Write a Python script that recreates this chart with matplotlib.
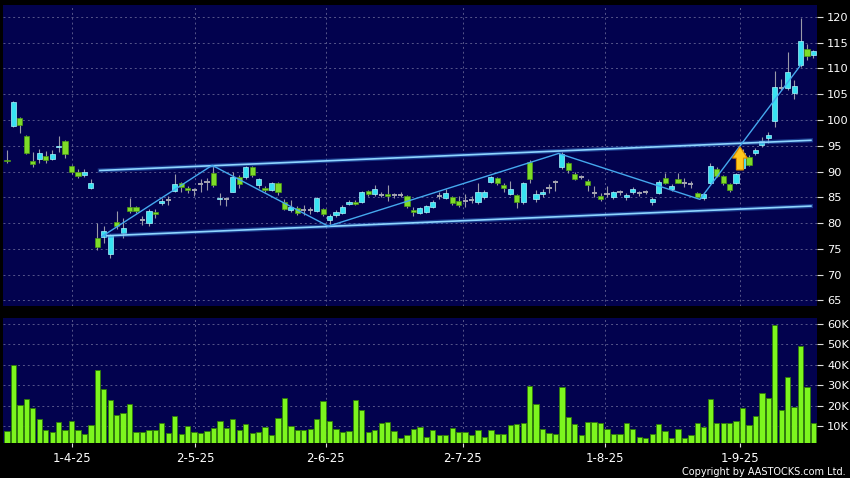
import matplotlib
matplotlib.use("Agg")
import matplotlib.pyplot as plt
from matplotlib.patches import FancyArrow

# daily candles (HK$), oldest first
opens = [92.3, 98.9, 100.4, 96.9, 92.0, 92.5, 93.0, 92.4, 94.7, 95.9,
         91.1, 89.9, 89.3, 86.9, 77.2, 77.4, 74.1, 80.2, 78.1, 83.1,
         83.1, 80.6, 80.1, 82.1, 83.8, 84.4, 86.2, 87.8, 86.8, 86.4,
         87.6, 88.0, 89.8, 84.6, 84.7, 86.1, 88.9, 89.0, 90.8, 87.3,
         86.9, 86.4, 87.7, 84.1, 82.5, 83.0, 82.5, 82.5, 82.4, 82.8,
         80.6, 81.5, 82.0, 83.7, 84.1, 84.0, 86.3, 85.6, 85.5, 85.6,
         85.4, 85.5, 85.2, 82.5, 82.0, 82.2, 83.2, 85.2, 84.8, 85.0,
         84.2, 84.2, 84.4, 84.0, 85.0, 88.0, 88.7, 87.4, 85.7, 85.4,
         84.1, 91.8, 84.6, 85.6, 86.9, 87.9, 90.8, 91.6, 89.5, 89.0,
         88.2, 85.8, 85.3, 85.6, 85.0, 86.1, 85.0, 86.0, 85.8, 86.0,
         84.1, 85.9, 88.7, 86.7, 88.5, 87.7, 87.6, 85.8, 84.9, 87.8,
         90.5, 89.2, 87.6, 87.7, 90.6, 92.9, 93.5, 95.2, 96.4, 99.7,
         106.2, 106.1, 105.3, 110.6, 113.7, 112.5]
highs = [94.2, 103.7, 100.6, 97.0, 93.8, 94.3, 94.0, 94.1, 96.9, 96.1,
         91.3, 90.5, 90.5, 88.5, 80.0, 79.4, 77.8, 82.3, 80.9, 84.9,
         83.3, 81.4, 82.8, 82.8, 84.9, 85.3, 89.5, 88.0, 87.1, 86.9,
         88.5, 88.7, 91.0, 85.9, 85.1, 90.0, 89.3, 91.0, 91.0, 88.8,
         87.2, 88.0, 88.0, 84.6, 84.5, 83.4, 83.5, 83.2, 85.0, 83.0,
         81.7, 82.5, 83.5, 84.4, 84.4, 86.2, 86.5, 87.3, 86.0, 87.4,
         85.9, 86.0, 85.5, 83.2, 83.2, 83.5, 84.4, 86.1, 86.6, 85.3,
         85.2, 85.6, 85.2, 87.8, 86.4, 89.1, 88.9, 87.7, 88.2, 85.6,
         88.0, 92.2, 86.4, 86.7, 87.6, 88.4, 93.8, 91.8, 89.9, 89.4,
         88.5, 87.1, 85.9, 87.1, 86.3, 86.4, 85.8, 87.0, 86.2, 86.4,
         85.0, 88.3, 89.7, 87.5, 89.8, 88.7, 88.2, 86.0, 85.8, 91.6,
         90.8, 89.4, 87.8, 89.8, 94.3, 93.2, 94.5, 96.6, 97.7, 109.4,
         108.0, 113.2, 107.7, 119.7, 114.8, 113.5]
lows = [91.6, 98.6, 97.5, 93.3, 90.9, 91.6, 91.7, 92.2, 93.8, 92.7,
        89.6, 88.7, 88.9, 86.6, 74.7, 76.2, 73.2, 78.8, 77.2, 81.9,
        82.0, 79.6, 79.5, 80.9, 83.5, 83.6, 86.0, 86.0, 85.8, 85.3,
        86.1, 86.5, 87.0, 83.6, 83.4, 86.0, 86.8, 88.5, 89.0, 86.8,
        86.1, 86.2, 85.4, 82.5, 82.2, 81.6, 81.6, 81.8, 82.2, 81.3,
        79.4, 81.2, 81.8, 83.5, 83.5, 83.8, 85.3, 85.3, 85.1, 84.3,
        84.9, 85.0, 83.0, 81.4, 81.8, 82.0, 83.0, 84.6, 84.6, 83.5,
        83.2, 83.2, 83.9, 83.7, 84.7, 87.7, 87.3, 86.1, 85.4, 83.0,
        83.7, 87.7, 84.1, 85.1, 85.8, 86.3, 90.4, 89.8, 88.4, 88.6,
        86.3, 85.1, 84.3, 85.1, 84.6, 85.4, 84.4, 85.7, 85.3, 85.6,
        83.6, 85.6, 87.6, 86.3, 87.7, 87.0, 86.8, 84.8, 84.5, 87.5,
        89.0, 87.3, 86.0, 87.5, 90.4, 91.0, 93.2, 94.8, 95.5, 98.6,
        105.8, 105.8, 104.0, 110.3, 111.6, 112.0]
closes = [92.0, 103.4, 99.1, 93.6, 91.4, 93.5, 92.2, 93.3, 95.0, 93.3,
          90.0, 89.1, 90.0, 87.7, 75.4, 78.5, 77.6, 79.4, 79.0, 82.3,
          82.3, 80.6, 82.4, 81.8, 84.3, 84.4, 87.5, 87.0, 86.5, 86.4,
          87.6, 88.0, 87.3, 84.9, 84.7, 88.9, 87.5, 90.8, 89.4, 88.5,
          86.4, 87.7, 86.1, 82.7, 83.1, 81.9, 82.5, 82.5, 84.8, 81.7,
          81.4, 82.2, 83.2, 84.1, 83.7, 86.0, 85.6, 86.7, 85.5, 85.3,
          85.4, 85.5, 83.3, 82.1, 82.9, 83.3, 84.1, 85.2, 85.9, 83.8,
          83.5, 84.2, 84.4, 86.0, 86.0, 88.9, 87.7, 86.8, 86.6, 84.1,
          87.7, 88.5, 85.6, 86.0, 86.9, 87.9, 93.4, 90.2, 88.6, 89.0,
          87.3, 85.8, 84.6, 85.6, 86.1, 86.1, 85.5, 86.7, 85.8, 86.0,
          84.6, 88.0, 87.8, 87.2, 87.8, 87.7, 87.6, 85.0, 85.6, 91.1,
          89.2, 87.7, 86.5, 89.5, 93.6, 91.3, 94.2, 96.0, 97.0, 106.3,
          106.2, 109.2, 106.5, 115.2, 112.4, 113.3]
# volume in thousands of shares
volumes_k = [7.9, 40, 20.3, 23.2, 19, 13.4, 8.4, 7.1, 12.1, 8.4,
             12.6, 8.3, 6.3, 10.5, 37.5, 28.1, 22.9, 15.5, 16.5, 20.8,
             7.4, 7.4, 8.1, 8.3, 11.6, 6.7, 15.2, 6.3, 10.2, 7.4,
             6.7, 7.7, 9.3, 12.8, 9.1, 13.6, 8.3, 11, 6.7, 7.3,
             9.6, 5.9, 13.9, 23.7, 10.2, 8.3, 8.3, 8.9, 13.6, 22.2,
             12.6, 8.7, 7.3, 7.7, 22.7, 18, 7.3, 8.3, 11.6, 12,
             7.7, 4.5, 5.6, 8.7, 9.8, 4.8, 8, 5.8, 5.8, 9.3,
             7.3, 7, 5.8, 8.1, 4.6, 8.4, 6.1, 6.1, 10.7, 10.9,
             11.6, 29.6, 21.1, 8.7, 6.7, 6.3, 29.4, 14.4, 10.9, 5.6,
             12, 12, 11.6, 8.9, 6.3, 6.3, 11.4, 8.9, 4.6, 4.3,
             6.3, 11.2, 7.7, 4.5, 8.9, 4.3, 5.9, 11.4, 9.8, 23.4,
             11.6, 11.6, 11.4, 12.5, 19, 10.7, 15, 26.1, 23.9, 59.5,
             17.8, 34.3, 19.5, 49.1, 29.1, 11.6]

date_labels = ["1-4-25", "2-5-25", "2-6-25", "2-7-25", "1-8-25", "1-9-25"]
date_pos = [10, 29.2, 49.4, 70.6, 92.7, 113.6]
price_ticks = [65, 70, 75, 80, 85, 90, 95, 100, 105, 110, 115, 120]
vol_ticks = [10, 20, 30, 40, 50, 60]

# hand-drawn trend lines (bar index, price)
channel_top = ([14.4, 124.6], [90.2, 96.05])
channel_bot = ([15.5, 124.6], [77.55, 83.3])
zigzag_x = [14.7, 31.8, 49.8, 85.5, 107.4, 123.0]
zigzag_y = [77.4, 91.2, 79.4, 93.5, 84.6, 110.6]
signal_idx, signal_lo, signal_hi = 113.6, 90.3, 94.8

BG = "#02024e"
GRID = "#56568a"
UP = "#38e2f2"
DOWN = "#7edc28"
FLAT = "#a6a6b2"
WICK = "#9a9aa8"

fig = plt.figure(figsize=(8.5, 4.78), dpi=100, facecolor="black")
ax = fig.add_axes([0.0039, 0.3598, 0.9577, 0.6297])
axv = fig.add_axes([0.0039, 0.0726, 0.9577, 0.2615], sharex=ax)

for a in (ax, axv):
    a.set_facecolor(BG)
    for s in a.spines.values():
        s.set_visible(False)
    a.yaxis.tick_right()
    a.tick_params(axis="y", colors="#dddddd", labelcolor="white", length=4, width=0.8,
                  pad=3, labelsize=8.2)
    a.grid(True, color=GRID, linestyle=(0, (2, 3)), linewidth=0.7)
    a.set_axisbelow(True)

n = len(opens)
xs = list(range(n))
w = 0.8

# candles
ax.vlines(xs, lows, highs, color=WICK, linewidth=0.8, zorder=2)
for i in xs:
    o, c = opens[i], closes[i]
    if abs(c - o) < 0.05:
        ax.hlines(o, i - w / 2, i + w / 2, color=FLAT, linewidth=1.4, zorder=3)
    elif c > o:
        ax.bar(i, c - o, bottom=o, width=w, color=UP, edgecolor="#a6f6ff", linewidth=0.5, zorder=3)
    else:
        ax.bar(i, o - c, bottom=c, width=w, color=DOWN, edgecolor="#4c9c12", linewidth=0.5, zorder=3)

# trend lines
for line in (channel_top, channel_bot):
    ax.plot(line[0], line[1], color="#2f6fc8", linewidth=3, alpha=0.5, zorder=4)
    ax.plot(line[0], line[1], color="#8fd6ff", linewidth=1.2, zorder=4)
ax.plot(zigzag_x, zigzag_y, color="#45a8ee", linewidth=1.0, zorder=4)

# buy signal arrow
ax.add_patch(FancyArrow(signal_idx, signal_lo, 0, signal_hi - signal_lo, width=1.1,
                        head_width=2.3, head_length=2.2, length_includes_head=True,
                        facecolor="#ffc81e", edgecolor="#d98a00", linewidth=0.8, zorder=5))

ax.set_ylim(63.93, 122.27)
ax.set_yticks(price_ticks)
ax.set_xlim(-0.57, 125.6)
ax.tick_params(axis="x", bottom=False, labelbottom=False)

# volume
axv.bar(xs, volumes_k, width=0.82, color="#7cf51e", edgecolor="#2f7a08", linewidth=0.6, zorder=3)
axv.set_ylim(1.7, 62.8)
axv.set_yticks(vol_ticks)
axv.set_yticklabels([f"{v}K" for v in vol_ticks])
axv.set_xticks(date_pos)
axv.set_xticklabels(date_labels)
axv.tick_params(axis="x", colors="#dddddd", labelcolor="white", length=3, width=0.8,
                pad=3, labelsize=8.5)

fig.text(0.995, 0.003, "Copyright by AASTOCKS.com Ltd.", color="white", fontsize=7,
         ha="right", va="bottom")

fig.savefig("out.png", dpi=100, facecolor="black")
